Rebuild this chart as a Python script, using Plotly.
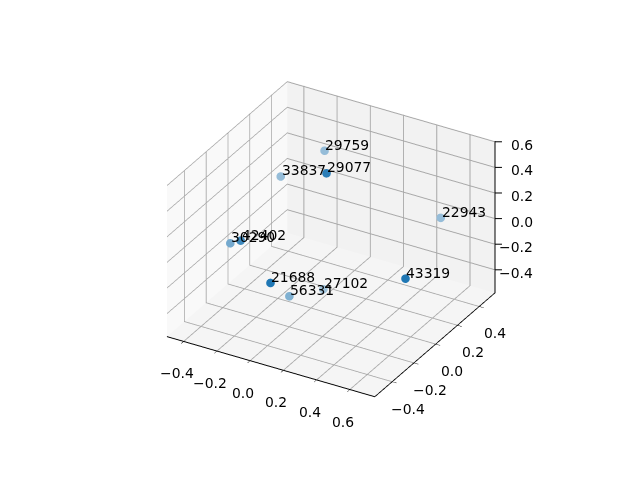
import plotly.graph_objects as go

labels = ["21688", "56331", "27102", "43319", "22943", "29759", "29077", "33837", "30290", "42402"]
xs = [-0.011, -0.07, -0.007, 0.592, 0.457, -0.183, 0.097, -0.293, -0.379, -0.256]
ys = [-0.357, -0.093, 0.123, -0.037, 0.493, 0.403, -0.007, 0.168, -0.164, -0.257]
zs = [-0.125, -0.445, -0.525, -0.10, -0.065, 0.285, 0.515, 0.215, -0.095, 0.04]
# depth shading, nearer points are darker
alphas = [1.0, 0.55, 0.4, 1.0, 0.45, 0.45, 0.95, 0.45, 0.6, 0.85]

x_range = [-0.5, 0.75]
y_range = [-0.56, 0.545]
z_range = [-0.58, 0.605]
x_ticks = [-0.4, -0.2, 0.0, 0.2, 0.4, 0.6]
y_ticks = [-0.4, -0.2, 0.0, 0.2, 0.4]
z_ticks = [-0.4, -0.2, 0.0, 0.2, 0.4, 0.6]
x_tick_text = ["\u22120.4", "\u22120.2", "0.0", "0.2", "0.4", "0.6"]
y_tick_text = ["\u22120.4", "\u22120.2", "0.0", "0.2", "0.4"]
z_tick_text = ["\u22120.4", "\u22120.2", "0.0", "0.2", "0.4", "0.6"]
font = dict(family="DejaVu Sans", size=13.9, color="black")


def shade(a):
    # blend tab:blue over the pane, rgba looks wrong in gl3d
    r, g, b = [round(245 - (245 - c) * a) for c in (31, 119, 180)]
    return f"rgb({r},{g},{b})"


fig = go.Figure()

fig.add_trace(
    go.Scatter3d(
        x=xs,
        y=ys,
        z=zs,
        mode="markers",
        marker=dict(size=5, color=[shade(a) for a in alphas], opacity=1, line=dict(width=0)),
        text=labels,
        hoverinfo="text",
    )
)

# plotly puts the z axis on the left for this view, redraw it on the right edge
fig.add_trace(
    go.Scatter3d(
        x=[x_range[1], x_range[1]],
        y=[y_range[1], y_range[1]],
        z=z_range,
        mode="lines",
        line=dict(color="black", width=2),
        hoverinfo="skip",
    )
)

annotations = []
for px, py, pz, label in zip(xs, ys, zs, labels):
    annotations.append(dict(x=px, y=py, z=pz, text=label, showarrow=False, font=font,
                            xanchor="left", yanchor="bottom", xshift=-1, yshift=-4))
for tick, label in zip(z_ticks, z_tick_text):
    annotations.append(dict(x=x_range[1], y=y_range[1], z=tick, text=" ", showarrow=True,
                            arrowhead=0, arrowwidth=1, arrowcolor="black", ax=10, ay=0))
    annotations.append(dict(x=x_range[1], y=y_range[1], z=tick, text=label, showarrow=False, font=font,
                            xanchor="right", yanchor="middle", xshift=40, yshift=-3))
# tick labels sit further out than plotly can put them
for tick, label in zip(x_ticks, x_tick_text):
    annotations.append(dict(x=tick, y=y_range[0], z=z_range[0], text=label, showarrow=False, font=font,
                            xanchor="center", yanchor="middle", xshift=-7, yshift=-32))
for tick, label in zip(y_ticks, y_tick_text):
    annotations.append(dict(x=x_range[1], y=tick, z=z_range[0], text=label, showarrow=False, font=font,
                            xanchor="center", yanchor="middle", xshift=16, yshift=-27))


def axis_style(axis_range, ticks, pane):
    return dict(
        range=axis_range,
        autorange=False,
        tickmode="array",
        tickvals=ticks,
        ticks="outside",
        ticklen=5,
        tickcolor="black",
        showticklabels=False,
        showline=True,
        linecolor="black",
        linewidth=2,
        gridcolor="#a8a8a8",
        gridwidth=2,
        zeroline=False,
        showspikes=False,
        showbackground=True,
        backgroundcolor=pane,
        title=dict(text=""),
    )


z_axis = axis_style(z_range, z_ticks, "#f5f5f5")
z_axis.update(showline=False, ticks="")

fig.update_layout(
    width=640,
    height=480,
    margin=dict(l=0, r=0, t=0, b=0),
    paper_bgcolor="white",
    showlegend=False,
    scene=dict(
        domain=dict(x=[0, 1], y=[0, 1]),
        xaxis=axis_style(x_range, x_ticks, "#f9f9f9"),
        yaxis=axis_style(y_range, y_ticks, "#f2f2f2"),
        zaxis=z_axis,
        annotations=annotations,
        aspectmode="manual",
        aspectratio=dict(x=1, y=1, z=0.73),
        camera=dict(
            eye=dict(x=1.019, y=-1.786, z=1.144),
            center=dict(x=-0.011, y=-0.006, z=-0.044),
            up=dict(x=0, y=0, z=1),
            projection=dict(type="orthographic"),
        ),
    ),
)

fig.write_html("out.html")
